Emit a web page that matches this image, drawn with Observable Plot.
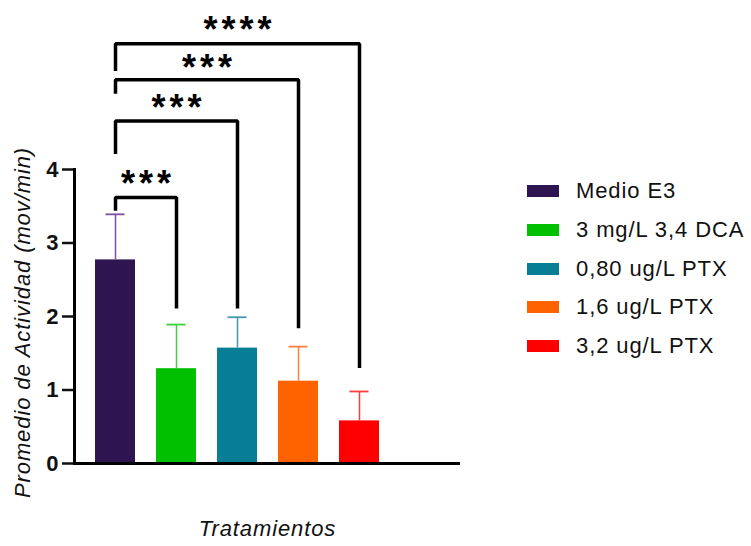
<!DOCTYPE html>
<html>
<head>
<meta charset="utf-8">
<script src="https://cdn.jsdelivr.net/npm/d3@7"></script>
<script src="https://cdn.jsdelivr.net/npm/@observablehq/plot@0.6"></script>
<style>
  html, body { margin: 0; padding: 0; background: #fff; }
  #wrap { position: relative; width: 751px; height: 546px; }
  #legend { position: absolute; left: 527px; top: 172px; }
  #legend * { font-family: "Liberation Sans", Arial, sans-serif !important; font-size: 22px !important; color: #111 !important; letter-spacing: 0.9px; }
  #legend .lg-swatch { height: 38.7px !important; padding-bottom: 0 !important; display: flex; align-items: center; }
  #legend .lg-swatch svg { margin-right: 17px !important; }
  #legend .lg, #legend > div { margin: 0 !important; }
  .stars text { letter-spacing: 4px; }
</style>
</head>
<body>
<div id="wrap"><div id="chart"></div><div id="legend"></div></div>
<script>
// Categories and values
const cats = ["Medio E3", "3 mg/L 3,4 DCA", "0,80 ug/L PTX", "1,6 ug/L PTX", "3,2 ug/L PTX"];
const means = [2.77, 1.29, 1.57, 1.12, 0.58];
const errHi = [3.39, 1.89, 1.99, 1.59, 0.98];
const fills = ["#2e1450", "#00c000", "#077e96", "#ff6300", "#ff0000"];
const errColors = ["#7d4f9e", "#3ccf3c", "#4497ae", "#ff7f3a", "#ff3b3b"];
const yTicks = [0, 1, 2, 3, 4];

// Significance brackets (from first category to category index brTo)
const brTo = [1, 2, 3, 4];
const brTop = [3.62, 4.66, 5.22, 5.71];
const brLeftBottom = [3.44, 4.21, 5.03, 5.34];
const brRightBottom = [2.11, 2.11, 1.84, 1.30];
const brLabels = ["***", "***", "***", "****"];
const brStarTop = [3.99, 5.02, 5.56, 6.08];

const data = cats.map((c, i) => ({cat: c, mean: means[i], hi: errHi[i], ec: errColors[i]}));
const bracketPts = brTo.flatMap((t, k) => [
  {k, x: cats[0], y: brLeftBottom[k]},
  {k, x: cats[0], y: brTop[k]},
  {k, x: cats[t], y: brTop[k]},
  {k, x: cats[t], y: brRightBottom[k]}
]);
const starData = brTo.map((t, k) => ({from: cats[0], to: cats[t], y: brStarTop[k], label: brLabels[k]}));

const plot = Plot.plot({
  width: 751,
  height: 546,
  marginLeft: 74,
  marginRight: 291,
  marginTop: 169,
  marginBottom: 83,
  style: {fontFamily: "Liberation Sans, Arial, sans-serif", background: "#fff", overflow: "visible", color: "#111"},
  x: {domain: cats, range: [74, 400.5], paddingInner: 0.344, paddingOuter: 0.344, axis: null},
  y: {domain: [0, 4], axis: null},
  color: {domain: cats, range: fills},
  marks: [
    Plot.barY(data, {x: "cat", y: "mean", fill: "cat"}),
    Plot.ruleX(data, {x: "cat", y1: "mean", y2: "hi", stroke: "ec", strokeWidth: 1.5}),
    Plot.tickY(data, {x: "cat", y: "hi", stroke: "ec", strokeWidth: 1.8, insetLeft: 10.5, insetRight: 10.5}),
    Plot.line(bracketPts, {x: "x", y: "y", z: "k", stroke: "#000", strokeWidth: 3.5, strokeLinejoin: "miter", strokeLinecap: "butt"}),
    Plot.text(starData, {
      x: "from", y: "y", text: "label", lineAnchor: "top", fontSize: 36, fontWeight: "bold", fill: "#000", className: "stars", dx: 2,
      render(index, scales, values, dimensions, context, next) {
        const X = Array.from(values.x, (v, i) => (scales.x(starData[i].from) + scales.x(starData[i].to)) / 2);
        return next(index, scales, {...values, x: X}, dimensions, context);
      }
    }),
    Plot.axisY({ticks: yTicks, tickFormat: d3.format("d"), tickSize: 12, tickPadding: 3, strokeWidth: 2.5, fontSize: 22, fontWeight: "bold", label: null}),
    Plot.frame({anchor: "left", strokeWidth: 3, stroke: "#000"}),
    Plot.ruleY([0], {strokeWidth: 3, stroke: "#000"}),
    Plot.text(["Tratamientos"], {frameAnchor: "bottom", dy: 72, fontStyle: "italic", fontSize: 22, fill: "#111"}),
    Plot.text(["Promedio de Actividad (mov/min)"], {frameAnchor: "left", textAnchor: "middle", rotate: -90, dx: -52, dy: 6, fontStyle: "italic", fontSize: 22, fill: "#111"})
  ]
});
plot.style.letterSpacing = "0.9px";
document.getElementById("chart").appendChild(plot);

const legend = plot.legend("color", {legend: "swatches", columns: 1, swatchWidth: 32, swatchHeight: 12, className: "lg"});
document.getElementById("legend").appendChild(legend);
</script>
</body>
</html>
